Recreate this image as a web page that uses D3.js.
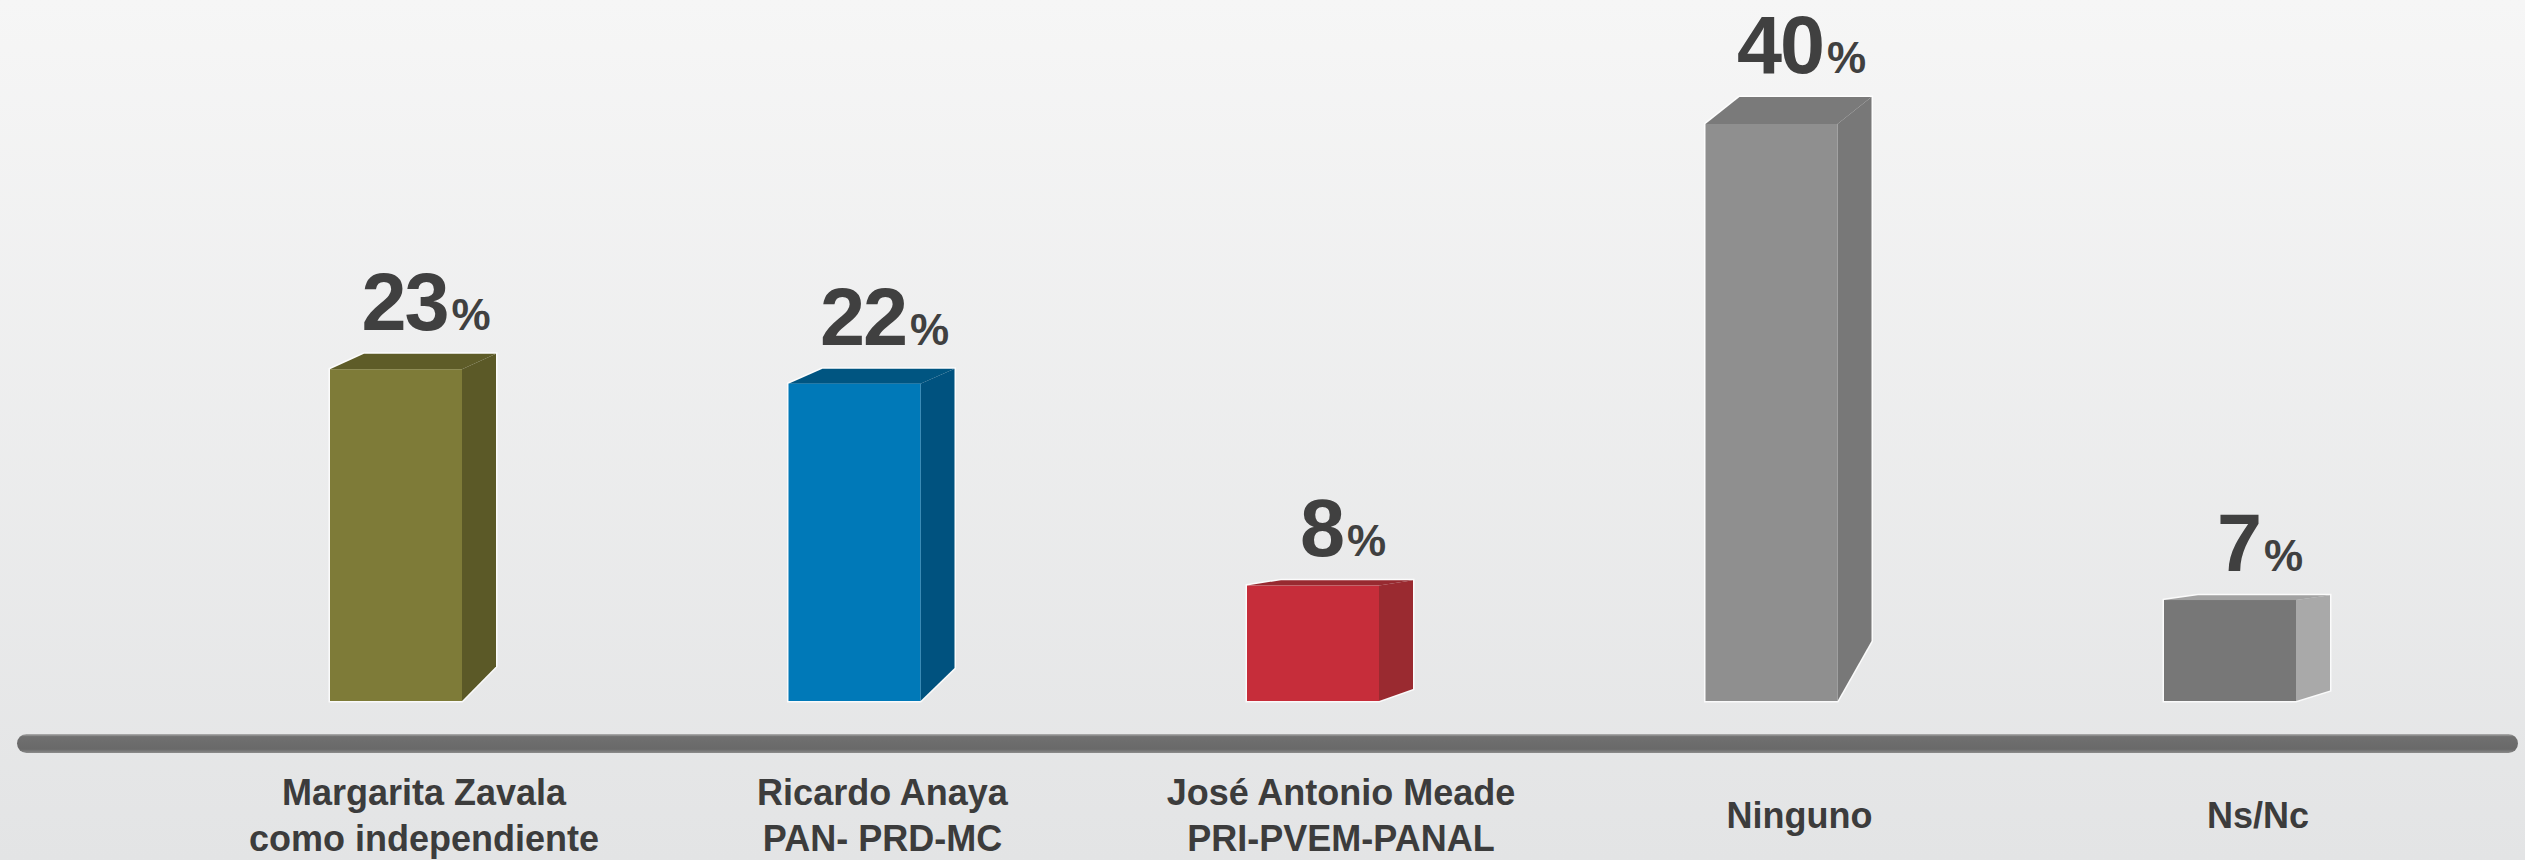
<!DOCTYPE html>
<html>
<head>
<meta charset="utf-8">
<script src="https://cdn.jsdelivr.net/npm/d3@7"></script>
<style>
  html, body { margin: 0; padding: 0; background: #eeeeee; }
  svg { display: block; }
</style>
</head>
<body>
<svg id="chart" width="2525" height="860"></svg>
<script>
// ---- data ----
const categories = ["Margarita Zavala", "Ricardo Anaya", "José Antonio Meade", "Ninguno", "Ns/Nc"];
const labelLines = [
  ["Margarita Zavala", "como independiente"],
  ["Ricardo Anaya", "PAN- PRD-MC"],
  ["José Antonio Meade", "PRI-PVEM-PANAL"],
  ["Ninguno"],
  ["Ns/Nc"]
];
const values = [23, 22, 8, 40, 7];

// ---- styles ----
const frontColors = ["#7e7b38", "#0079b8", "#c62d3a", "#8f8f8f", "#777777"];
const sideColors  = ["#5b5927", "#00527f", "#9a2a30", "#787878", "#a9a9a9"];
const topColors   = ["#5e5c28", "#005581", "#972a30", "#7a7a7a", "#a2a2a2"];

const W = 2525, H = 860;
const baseY = 701;
const barW = 132, depth = 34;
const svg = d3.select("#chart");

// background gradient
const defs = svg.append("defs");
const bg = defs.append("linearGradient").attr("id", "bg").attr("x1", 0).attr("y1", 0).attr("x2", 0).attr("y2", 1);
bg.append("stop").attr("offset", "0%").attr("stop-color", "#f6f6f6");
bg.append("stop").attr("offset", "100%").attr("stop-color", "#e3e4e5");
svg.append("rect").attr("width", W).attr("height", H).attr("fill", "url(#bg)");

const axisG = defs.append("linearGradient").attr("id", "axisg").attr("x1", 0).attr("y1", 0).attr("x2", 0).attr("y2", 1);
axisG.append("stop").attr("offset", "0%").attr("stop-color", "#b0b0b0");
axisG.append("stop").attr("offset", "14%").attr("stop-color", "#707070");
axisG.append("stop").attr("offset", "80%").attr("stop-color", "#696969");
axisG.append("stop").attr("offset", "100%").attr("stop-color", "#8c8c8c");

// ---- scales ----
const x = d3.scalePoint().domain(categories).range([396, 2230]);
const y = d3.scaleLinear().domain([0, 40]).range([baseY, 124]);

const data = categories.map((c, i) => ({ c, i, v: values[i] }));

// ---- bars ----
const bars = svg.append("g").selectAll("g").data(data).join("g");

bars.each(function (d) {
  const g = d3.select(this);
  const x0 = x(d.c) - barW / 2;
  const top = y(d.v);
  const h = baseY - top;
  const dyT = 0.047 * h, dyB = 0.104 * h;
  // glow outline
  const outline = [[x0, top], [x0 + depth, top - dyT], [x0 + barW + depth, top - dyT],
                   [x0 + barW + depth, baseY - dyB], [x0 + barW, baseY], [x0, baseY]];
  g.append("polygon").attr("points", outline.map(p => p.join(",")).join(" "))
    .attr("fill", "none").attr("stroke", "rgba(255,255,255,0.8)").attr("stroke-width", 3);
  // side
  g.append("polygon")
    .attr("points", [[x0 + barW, top], [x0 + barW + depth, top - dyT], [x0 + barW + depth, baseY - dyB], [x0 + barW, baseY]].map(p => p.join(",")).join(" "))
    .attr("fill", sideColors[d.i]);
  // top
  g.append("polygon")
    .attr("points", [[x0, top], [x0 + depth, top - dyT], [x0 + barW + depth, top - dyT], [x0 + barW, top]].map(p => p.join(",")).join(" "))
    .attr("fill", topColors[d.i]);
  // front
  g.append("rect").attr("x", x0).attr("y", top).attr("width", barW).attr("height", h)
    .attr("fill", frontColors[d.i]);

  // value label
  const t = g.append("text")
    .attr("x", x(d.c) + 30)
    .attr("y", top - dyT - 24)
    .attr("text-anchor", "middle")
    .attr("font-family", "'Liberation Sans', Arial, sans-serif")
    .attr("font-weight", "bold")
    .attr("fill", "#404040");
  t.append("tspan").attr("font-size", 81).attr("letter-spacing", -2).text(d.v);
  t.append("tspan").attr("font-size", 44).attr("dx", 4).text("%");
});

// ---- axis line ----
svg.append("rect").attr("x", 17).attr("y", 734).attr("width", 2501).attr("height", 19)
  .attr("rx", 9.5).attr("ry", 9.5).attr("fill", "url(#axisg)");

// ---- category labels ----
const labels = svg.append("g").selectAll("text").data(data).join("text")
  .attr("x", d => x(d.c) + 28)
  .attr("text-anchor", "middle")
  .attr("font-family", "'Liberation Sans', Arial, sans-serif")
  .attr("font-weight", "bold")
  .attr("font-size", 36)
  .attr("fill", "#3c3c3c");

labels.each(function (d) {
  const lines = labelLines[d.i];
  const el = d3.select(this);
  if (lines.length === 1) {
    el.append("tspan").attr("x", x(d.c) + 28).attr("y", 828).text(lines[0]);
  } else {
    lines.forEach((l, k) => {
      el.append("tspan").attr("x", x(d.c) + 28).attr("y", 805 + k * 46).text(l);
    });
  }
});
</script>
</body>
</html>
